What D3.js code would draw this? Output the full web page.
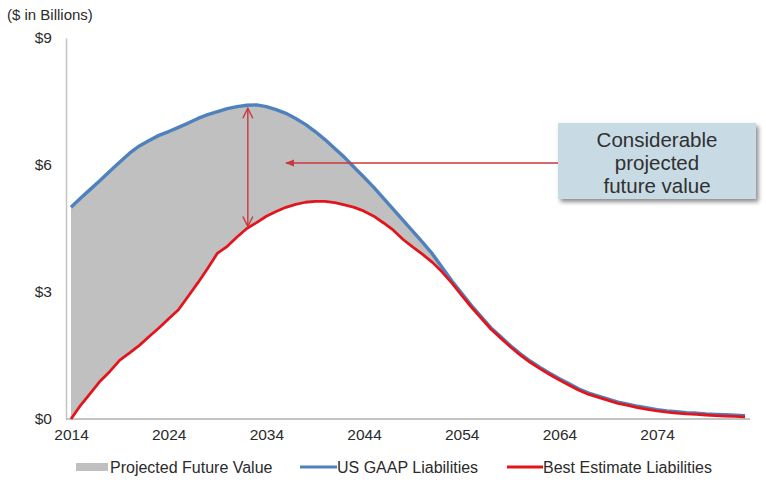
<!DOCTYPE html>
<html>
<head>
<meta charset="utf-8">
<script src="https://cdn.jsdelivr.net/npm/d3@7"></script>
<style>
  html, body { margin: 0; padding: 0; background: #fff; }
  svg { display: block; font-family: "Liberation Sans", Arial, sans-serif; }
</style>
</head>
<body>
<svg id="chart" width="766" height="483"></svg>
<script>
// Projection years (one point per year)
const years = [
  2014, 2015, 2016, 2017, 2018, 2019, 2020, 2021, 2022, 2023,
  2024, 2025, 2026, 2027, 2028, 2029, 2030, 2031, 2032, 2033,
  2034, 2035, 2036, 2037, 2038, 2039, 2040, 2041, 2042, 2043,
  2044, 2045, 2046, 2047, 2048, 2049, 2050, 2051, 2052, 2053,
  2054, 2055, 2056, 2057, 2058, 2059, 2060, 2061, 2062, 2063,
  2064, 2065, 2066, 2067, 2068, 2069, 2070, 2071, 2072, 2073,
  2074, 2075, 2076, 2077, 2078, 2079, 2080, 2081, 2082, 2083
];

// US GAAP liabilities ($ billions)
const usGaap = [
  5.00, 5.22, 5.43, 5.64, 5.86, 6.07, 6.28, 6.45, 6.58, 6.70,
  6.79, 6.89, 6.99, 7.10, 7.19, 7.26, 7.33, 7.38, 7.41, 7.42,
  7.38, 7.31, 7.22, 7.10, 6.96, 6.79, 6.60, 6.39, 6.18, 5.94,
  5.71, 5.47, 5.21, 4.95, 4.69, 4.43, 4.17, 3.90, 3.58, 3.26,
  2.97, 2.68, 2.41, 2.15, 1.94, 1.73, 1.54, 1.37, 1.22, 1.08,
  0.95, 0.83, 0.71, 0.61, 0.54, 0.47, 0.40, 0.35, 0.30, 0.26,
  0.22, 0.19, 0.17, 0.15, 0.14, 0.12, 0.11, 0.10, 0.09, 0.08
];

// Best estimate liabilities ($ billions)
const bestEstimate = [
  0.00, 0.33, 0.61, 0.90, 1.13, 1.39, 1.56, 1.74, 1.95, 2.15,
  2.37, 2.58, 2.90, 3.22, 3.56, 3.92, 4.08, 4.30, 4.50, 4.64,
  4.79, 4.90, 5.00, 5.07, 5.12, 5.14, 5.14, 5.11, 5.06, 5.00,
  4.91, 4.79, 4.63, 4.46, 4.24, 4.06, 3.89, 3.70, 3.47, 3.21,
  2.92, 2.64, 2.38, 2.12, 1.91, 1.70, 1.51, 1.34, 1.19, 1.05,
  0.92, 0.80, 0.68, 0.58, 0.51, 0.44, 0.37, 0.32, 0.27, 0.23,
  0.19, 0.16, 0.14, 0.12, 0.11, 0.095, 0.08, 0.07, 0.06, 0.05
];

const yTicks = [0, 3, 6, 9];
const xTicks = [2014, 2024, 2034, 2044, 2054, 2064, 2074];

const legendLabels = ["Projected Future Value", "US GAAP Liabilities", "Best Estimate Liabilities"];
const calloutLines = ["Considerable", "projected", "future value"];
// Year at which the gap between the two liability measures is highlighted
const gapYear = 2032;

const colors = {
  fill: "#c0c0c0",
  gaap: "#4f81bd",
  best: "#e3151c",
  arrow: "#c8383c",
  text: "#2b2b2b",
  axis: "#c4c4c4",
  box: "#c8dbe5"
};

const svg = d3.select("#chart");

const x = d3.scaleLinear().domain([2014, 2083]).range([71, 745]);
const y = d3.scaleLinear().domain([0, 9]).range([419, 38]);

const rows = years.map((yr, i) => ({ yr, gaap: usGaap[i], best: bestEstimate[i] }));

// Shaded area between the two liability curves
svg.append("path")
  .datum(rows)
  .attr("fill", colors.fill)
  .attr("d", d3.area().x(d => x(d.yr)).y0(d => y(d.best)).y1(d => y(d.gaap)));

// Y axis
const yAxis = svg.append("g")
  .attr("transform", "translate(66,0)")
  .call(d3.axisLeft(y).tickValues(yTicks).tickFormat(d => "$" + d).tickSize(0).tickPadding(14));
yAxis.select(".domain").attr("stroke", colors.axis).attr("stroke-width", 1.5);
yAxis.selectAll("text")
  .attr("fill", colors.text)
  .style("font-size", "15.5px")
  .style("font-family", "'Liberation Sans', Arial, sans-serif");

// X axis
const xAxis = svg.append("g")
  .attr("transform", "translate(0,419)")
  .call(d3.axisBottom(x).tickValues(xTicks).tickFormat(d3.format("d")).tickSize(0).tickPadding(10));
xAxis.select(".domain").remove();
xAxis.selectAll("text")
  .attr("fill", colors.text)
  .style("font-size", "15.5px")
  .style("font-family", "'Liberation Sans', Arial, sans-serif");
svg.append("line")
  .attr("x1", 66).attr("x2", 750)
  .attr("y1", 419).attr("y2", 419)
  .attr("stroke", colors.axis).attr("stroke-width", 2);

// Units label
svg.append("text")
  .attr("x", 7).attr("y", 20)
  .attr("fill", colors.text)
  .style("font-size", "15px")
  .text("($ in Billions)");

// Liability lines
const lineGaap = d3.line().x(d => x(d.yr)).y(d => y(d.gaap));
const lineBest = d3.line().x(d => x(d.yr)).y(d => y(d.best));

svg.append("path").datum(rows)
  .attr("fill", "none").attr("stroke", colors.gaap)
  .attr("stroke-width", 3.4).attr("stroke-linejoin", "round")
  .attr("d", lineGaap);

svg.append("path").datum(rows)
  .attr("fill", "none").attr("stroke", colors.best)
  .attr("stroke-width", 2.8).attr("stroke-linejoin", "round")
  .attr("d", lineBest);

// Arrow heads
const defs = svg.append("defs");
defs.append("marker")
  .attr("id", "arrowHead")
  .attr("viewBox", "0 0 12 12")
  .attr("refX", 11).attr("refY", 6)
  .attr("markerWidth", 12).attr("markerHeight", 12)
  .attr("markerUnits", "userSpaceOnUse")
  .attr("orient", "auto-start-reverse")
  .append("path")
  .attr("d", "M1,1 L11,6 L1,11")
  .attr("fill", "none")
  .attr("stroke", colors.arrow)
  .attr("stroke-width", 1.4);

defs.append("marker")
  .attr("id", "arrowSolid")
  .attr("viewBox", "0 0 10 10")
  .attr("refX", 9).attr("refY", 5)
  .attr("markerWidth", 9).attr("markerHeight", 9)
  .attr("markerUnits", "userSpaceOnUse")
  .attr("orient", "auto")
  .append("path")
  .attr("d", "M0,1 L10,5 L0,9 Z")
  .attr("fill", colors.arrow);

const shadow = defs.append("filter")
  .attr("id", "boxShadow")
  .attr("x", "-10%").attr("y", "-10%")
  .attr("width", "130%").attr("height", "140%");
shadow.append("feDropShadow")
  .attr("dx", 2.5).attr("dy", 3)
  .attr("stdDeviation", 2)
  .attr("flood-color", "#000").attr("flood-opacity", 0.45);

// Double-headed arrow spanning the gap at its widest
const gi = years.indexOf(gapYear);
svg.append("line")
  .attr("x1", x(gapYear) + 1).attr("x2", x(gapYear) + 1)
  .attr("y1", y(usGaap[gi]) + 3).attr("y2", y(bestEstimate[gi]) - 2)
  .attr("stroke", colors.arrow).attr("stroke-width", 1.4)
  .attr("marker-start", "url(#arrowHead)")
  .attr("marker-end", "url(#arrowHead)");

// Callout box with pointer
const box = { x: 558, y: 123, w: 198, h: 76 };
svg.append("line")
  .attr("x1", box.x).attr("x2", 286)
  .attr("y1", 163).attr("y2", 163)
  .attr("stroke", colors.arrow).attr("stroke-width", 1.4)
  .attr("marker-end", "url(#arrowSolid)");

svg.append("rect")
  .attr("x", box.x).attr("y", box.y)
  .attr("width", box.w).attr("height", box.h)
  .attr("fill", colors.box)
  .attr("filter", "url(#boxShadow)");

svg.append("g")
  .selectAll("text")
  .data(calloutLines)
  .join("text")
  .attr("x", box.x + box.w / 2)
  .attr("y", (d, i) => 147 + i * 23)
  .attr("text-anchor", "middle")
  .attr("fill", "#303030")
  .style("font-size", "20.5px")
  .text(d => d);

// Legend
const legendY = 467;
const legend = svg.append("g");
legend.append("rect")
  .attr("x", 76).attr("y", legendY - 4)
  .attr("width", 32).attr("height", 8)
  .attr("fill", colors.fill);
legend.append("line")
  .attr("x1", 300).attr("x2", 337)
  .attr("y1", legendY).attr("y2", legendY)
  .attr("stroke", colors.gaap).attr("stroke-width", 3.2);
legend.append("line")
  .attr("x1", 507).attr("x2", 543)
  .attr("y1", legendY).attr("y2", legendY)
  .attr("stroke", colors.best).attr("stroke-width", 3);

const legendX = [110, 337, 543];
legend.selectAll("text.lbl")
  .data(legendLabels)
  .join("text")
  .attr("class", "lbl")
  .attr("x", (d, i) => legendX[i])
  .attr("y", legendY + 5.5)
  .attr("fill", colors.text)
  .style("font-size", "16px")
  .text(d => d);
</script>
</body>
</html>
